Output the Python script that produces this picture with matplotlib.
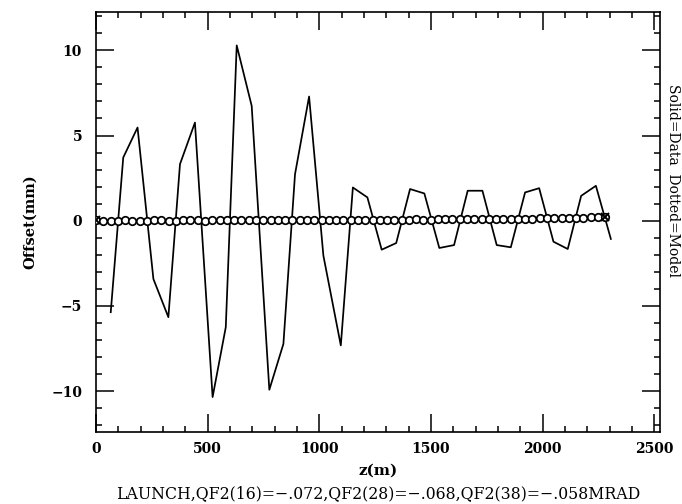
import matplotlib
matplotlib.use("Agg")
import matplotlib.pyplot as plt
from matplotlib.ticker import MultipleLocator

# ---- measured data (solid line) ----
data_z = [66, 122, 186, 257, 324, 376, 443, 522, 581, 630, 697, 776, 839,
          891, 954, 1018, 1096, 1150, 1215, 1279, 1344, 1406, 1470, 1537,
          1603, 1664, 1730, 1794, 1857, 1921, 1984, 2048, 2112, 2172, 2238,
          2305]
data_off = [-5.37, 3.71, 5.47, -3.42, -5.66, 3.32, 5.76, -10.35, -6.25,
            10.29, 6.74, -9.92, -7.23, 2.73, 7.29, -2.05, -7.32, 1.95, 1.37,
            -1.70, -1.31, 1.86, 1.60, -1.60, -1.43, 1.76, 1.76, -1.43, -1.56,
            1.66, 1.91, -1.23, -1.66, 1.46, 2.05, -1.07]

# ---- model (open circles) ----
model_z = [0, 33, 65, 98, 130, 163, 195, 228, 261, 293,
           326, 358, 391, 423, 456, 489, 521, 554, 586, 619,
           651, 684, 717, 749, 782, 814, 847, 879, 912, 945,
           977, 1010, 1042, 1075, 1108, 1140, 1173, 1205, 1238, 1270,
           1303, 1336, 1368, 1401, 1433, 1466, 1498, 1531, 1564, 1596,
           1629, 1661, 1694, 1726, 1759, 1792, 1824, 1857, 1889, 1922,
           1954, 1987, 2020, 2052, 2085, 2117, 2150, 2182, 2215, 2248,
           2280]
model_off = [0.02, 0.01, 0.00, 0.01, 0.02, 0.01, 0.00, 0.01, 0.02, 0.02,
             0.01, 0.00, 0.02, 0.03, 0.02, 0.01, 0.02, 0.03, 0.02, 0.02,
             0.03, 0.04, 0.03, 0.02, 0.03, 0.04, 0.03, 0.03, 0.04, 0.05,
             0.04, 0.04, 0.05, 0.05, 0.04, 0.05, 0.06, 0.05, 0.05, 0.06,
             0.07, 0.06, 0.06, 0.07, 0.08, 0.07, 0.07, 0.08, 0.09, 0.08,
             0.09, 0.10, 0.09, 0.10, 0.11, 0.10, 0.11, 0.12, 0.12, 0.13,
             0.13, 0.14, 0.14, 0.15, 0.16, 0.16, 0.17, 0.18, 0.19, 0.20,
             0.22]

x_ticks = [0, 500, 1000, 1500, 2000, 2500]
y_ticks = [-10, -5, 0, 5, 10]

plt.rcParams.update({
    "font.family": "DejaVu Serif",
    "axes.linewidth": 1.2,
})

fig = plt.figure(figsize=(6.82, 5.04), dpi=100)
fig.patch.set_facecolor("white")
ax = fig.add_axes([96 / 682, 72 / 504, 564 / 682, 420 / 504])

ax.plot(data_z, data_off, color="black", linewidth=1.25, zorder=3)
ax.plot(model_z, model_off, color="black", linewidth=0.8, marker="o",
        markersize=5.4, markerfacecolor="white", markeredgecolor="black",
        markeredgewidth=1.25, zorder=4)
ax.plot([model_z[0], model_z[-1]], [model_off[0], model_off[-1]],
        linestyle="none", marker="x", markersize=6, color="black",
        markeredgewidth=1.4, zorder=5)

ax.set_xlim(0, 2525)
ax.set_ylim(-12.4, 12.25)
ax.set_xticks(x_ticks)
ax.set_yticks(y_ticks)
ax.xaxis.set_minor_locator(MultipleLocator(100))
ax.yaxis.set_minor_locator(MultipleLocator(1))

ax.tick_params(which="both", direction="in", top=True, right=True,
               width=1.1, colors="black")
ax.tick_params(which="major", length=13)
ax.tick_params(which="minor", length=4.5)
ax.tick_params(axis="x", which="major", pad=7)
ax.tick_params(axis="y", which="major", pad=10)
for lab in ax.get_xticklabels() + ax.get_yticklabels():
    lab.set_fontsize(10)
    lab.set_fontweight("bold")

fig.text(30 / 682, 1 - 222 / 504, "Offset(mm)", rotation=90,
         ha="center", va="center", fontsize=10.5, fontweight="bold")
fig.text(378 / 682, 1 - 471 / 504, "z(m)", ha="center", va="center",
         fontsize=11, fontweight="bold")
fig.text(378 / 682, 1 - 494 / 504,
         "LAUNCH,QF2(16)=\u2212.072,QF2(28)=\u2212.068,QF2(38)=\u2212.058MRAD",
         ha="center", va="center", fontsize=11.3)
fig.text(673 / 682, 1 - 180 / 504, "Solid=Data  Dotted=Model", rotation=-90,
         ha="center", va="center", fontsize=10)

fig.savefig("out.png", dpi=100, facecolor="white")
